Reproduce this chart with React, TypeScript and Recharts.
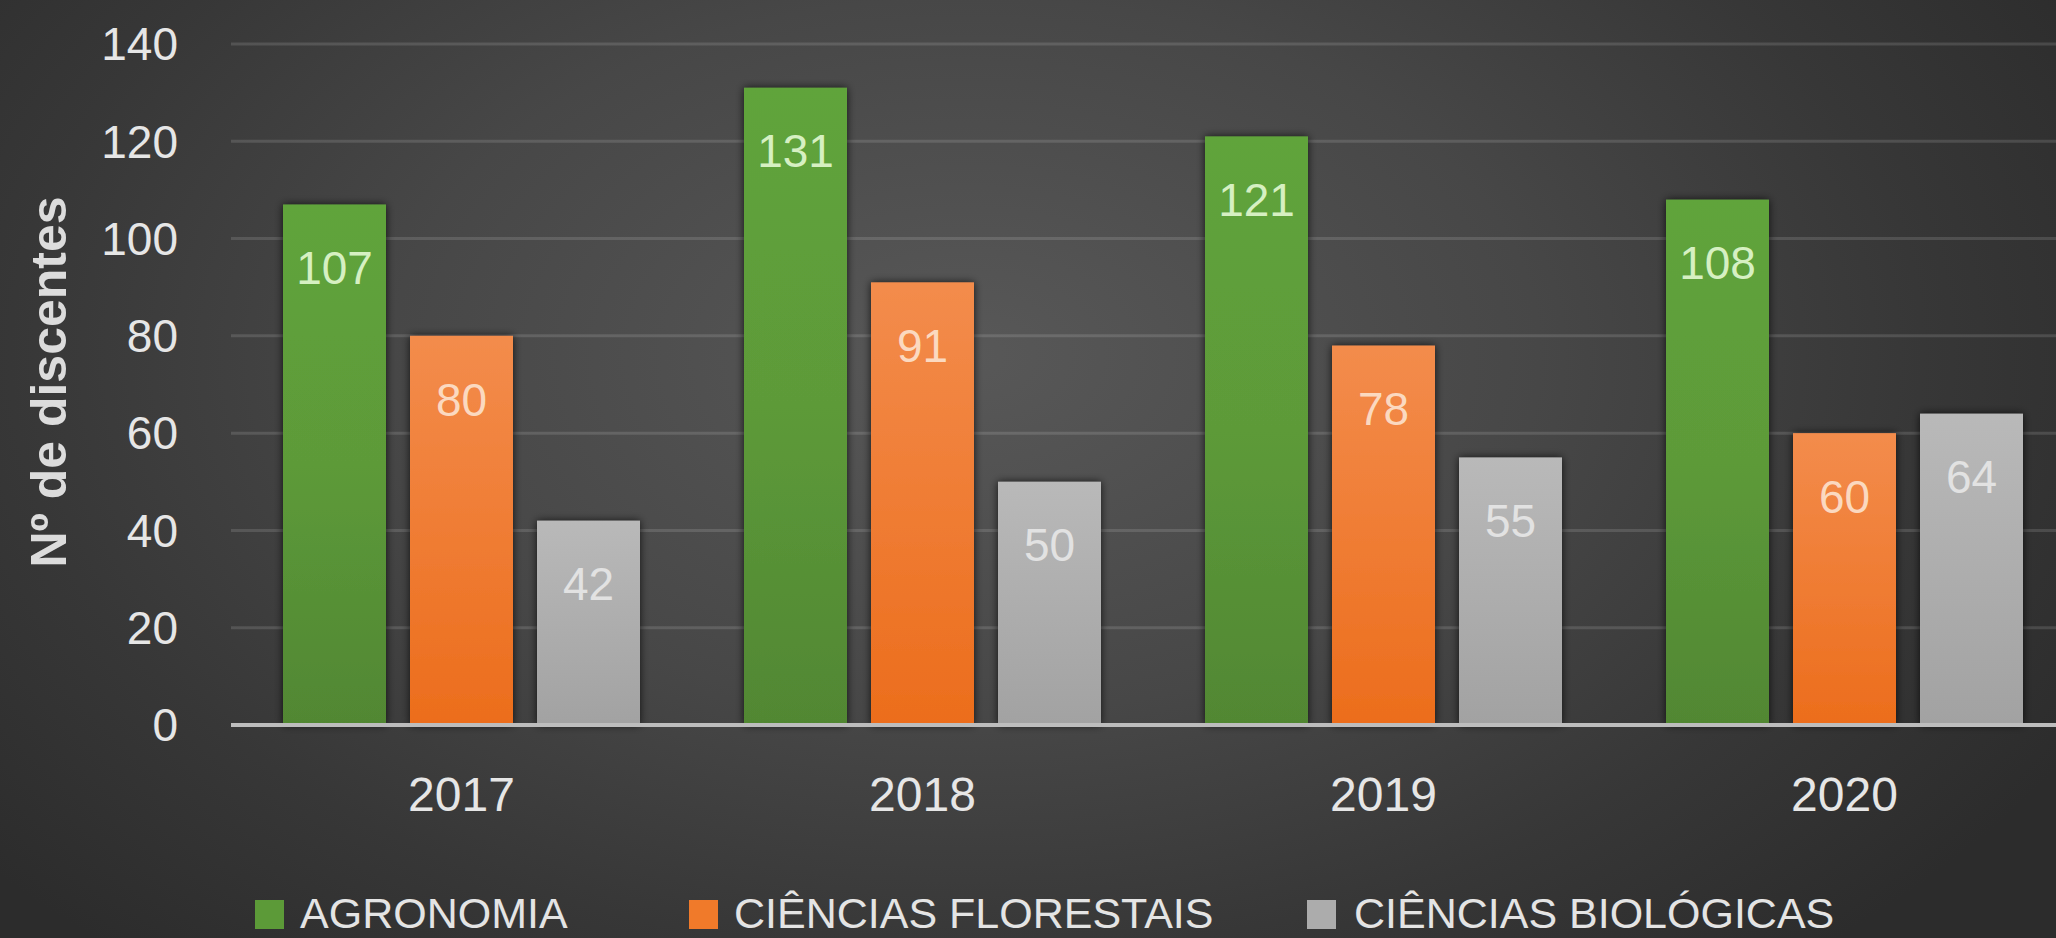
// Nº de discentes por curso, 2017–2020 — grouped BarChart on a dark background.
import { BarChart, Bar, XAxis, YAxis, CartesianGrid, Legend, LabelList, Label } from "recharts";

const years = ["2017", "2018", "2019", "2020"];
const agronomia = [107, 131, 121, 108];
const florestais = [80, 91, 78, 60];
const biologicas = [42, 50, 55, 64];
const yTicks = [0, 20, 40, 60, 80, 100, 120, 140];

const series = [
  { key: "agronomia", name: "AGRONOMIA", grad: "gGreen", swatch: "#5c9a38", label: "#d6f0c2" },
  { key: "florestais", name: "CIÊNCIAS FLORESTAIS", grad: "gOrange", swatch: "#f07a2a", label: "#fbd9c0" },
  { key: "biologicas", name: "CIÊNCIAS BIOLÓGICAS", grad: "gGrey", swatch: "#acacac", label: "#e2e2e2" },
];

const data = years.map((year, i) => ({
  year,
  agronomia: agronomia[i],
  florestais: florestais[i],
  biologicas: biologicas[i],
}));

const FONT = "'Liberation Sans', Arial, sans-serif";

// legend item x positions (square, text)
const legendX = [
  [255, 300],
  [689, 734],
  [1307, 1354],
];

function LegendContent() {
  return (
    <svg width={2056} height={58} style={{ display: "block" }}>
      {series.map((s, i) => (
        <g key={s.key}>
          <rect x={legendX[i][0]} y={20} width={29} height={29} fill={s.swatch} />
          <text x={legendX[i][1]} y={48} fill="#e4e4e4" fontSize={43} fontFamily={FONT}>
            {s.name}
          </text>
        </g>
      ))}
    </svg>
  );
}

function ShadowBar(props: any) {
  const { x, y, width, height, fill } = props;
  if (!height || height <= 0) return null;
  return <rect x={x} y={y} width={width} height={height} fill={fill} filter="url(#barShadow)" />;
}

export default function App() {
  return (
    <div
      style={{
        position: "absolute",
        left: 0,
        top: 0,
        width: 2056,
        height: 938,
        overflow: "hidden",
        background:
          "radial-gradient(ellipse 62% 85% at 47% 38%, #585858 0%, #474747 45%, #373737 75%, #2c2c2c 100%)",
      }}
    >
      <BarChart
        width={2080}
        height={938}
        data={data}
        margin={{ top: 44, right: 5, left: 0, bottom: 153 }}
        barCategoryGap={52}
        barGap={24}
      >
        <defs>
          <linearGradient id="gGreen" x1="0" y1="0" x2="0" y2="1">
            <stop offset="0%" stopColor="#60a43b" />
            <stop offset="50%" stopColor="#5d9a39" />
            <stop offset="100%" stopColor="#518733" />
          </linearGradient>
          <linearGradient id="gOrange" x1="0" y1="0" x2="0" y2="1">
            <stop offset="0%" stopColor="#f38c4c" />
            <stop offset="100%" stopColor="#ec6d1c" />
          </linearGradient>
          <linearGradient id="gGrey" x1="0" y1="0" x2="0" y2="1">
            <stop offset="0%" stopColor="#b9b9b9" />
            <stop offset="100%" stopColor="#a2a2a2" />
          </linearGradient>
          <filter id="barShadow" x="-20%" y="-10%" width="140%" height="120%">
            <feDropShadow dx="0" dy="0" stdDeviation="4" floodColor="#000" floodOpacity="0.75" />
          </filter>
        </defs>
        <CartesianGrid
          vertical={false}
          stroke="rgba(255,255,255,0.13)"
          strokeWidth={3}
        />
        <XAxis
          dataKey="year"
          height={60}
          tickSize={0}
          tickMargin={52}
          axisLine={{ stroke: "#bdbdbd", strokeWidth: 4 }}
          tick={{ fill: "#e6e6e6", fontSize: 48, fontFamily: FONT }}
        />
        <YAxis
          width={231}
          domain={[0, 140]}
          ticks={yTicks}
          tickSize={0}
          tickMargin={53}
          axisLine={false}
          tickLine={false}
          tick={{ fill: "#e6e6e6", fontSize: 46, fontFamily: FONT }}
        >
          <Label
            content={() => (
              <text
                x={66}
                y={382}
                transform="rotate(-90 66 382)"
                textAnchor="middle"
                fill="#dcdcdc"
                fontSize={50}
                fontWeight="bold"
                fontFamily={FONT}
              >
                Nº de discentes
              </text>
            )}
          />
        </YAxis>
        <Legend
          verticalAlign="middle"
          layout="horizontal"
          content={<LegendContent />}
          wrapperStyle={{ left: 0, top: 880, width: 2056, height: 58 }}
        />
        {series.map((s) => (
          <Bar
            key={s.key}
            dataKey={s.key}
            name={s.name}
            fill={`url(#${s.grad})`}
            shape={<ShadowBar />}
            isAnimationActive={false}
          >
            <LabelList
              dataKey={s.key}
              position="insideTop"
              offset={47}
              fill={s.label}
              fontSize={46}
              fontFamily={FONT}
            />
          </Bar>
        ))}
      </BarChart>
    </div>
  );
}
